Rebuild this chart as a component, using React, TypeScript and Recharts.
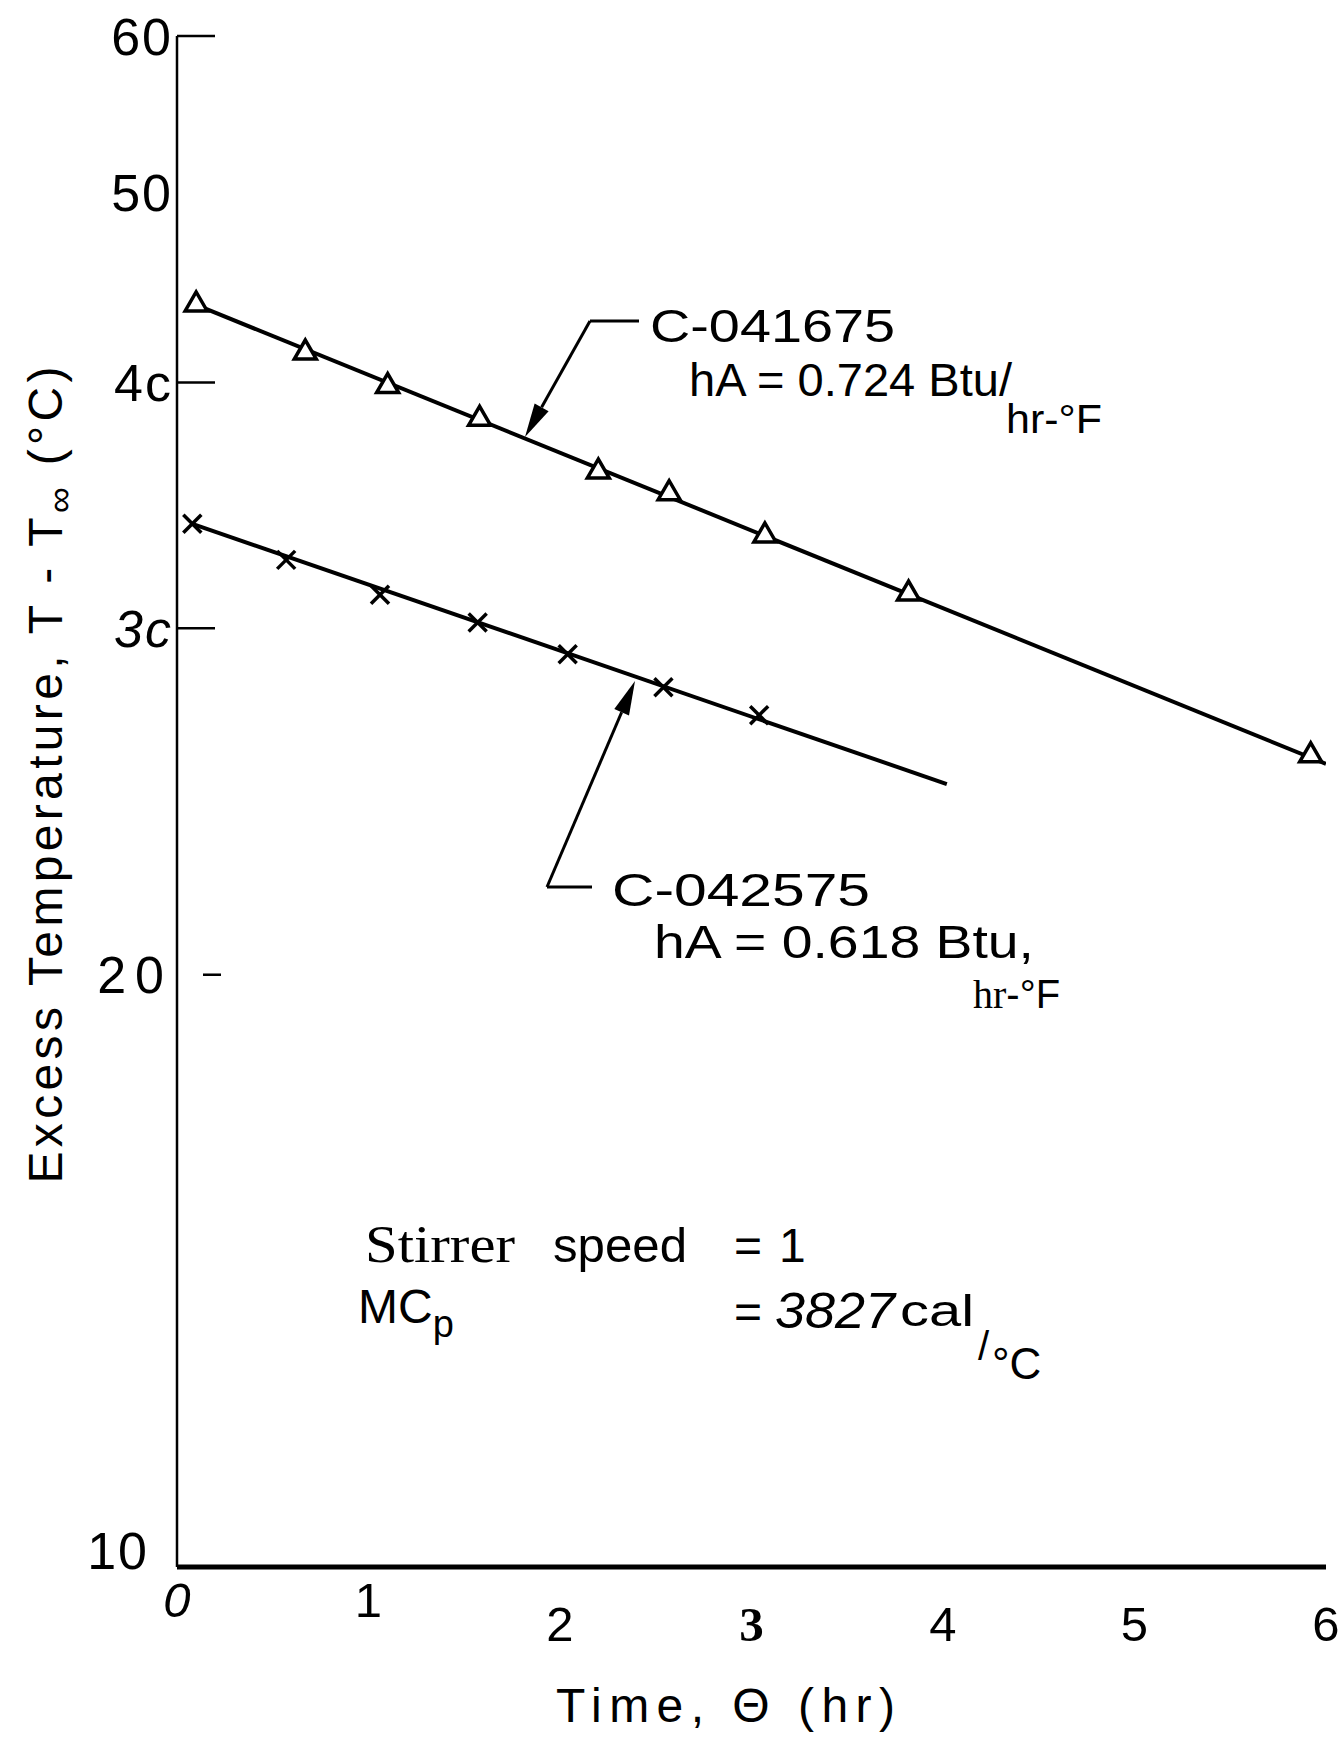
import { ComposedChart, XAxis, YAxis, Line, Scatter, Customized } from "recharts";

// run C-041675 (open triangles)
const runATime = [0.1, 0.67, 1.1, 1.58, 2.2, 2.57, 3.07, 3.82, 5.92];
const runATemp = [43.9, 41.5, 39.9, 38.4, 36.1, 35.2, 33.5, 31.3, 25.9];

// run C-042575 (crosses)
const runBTime = [0.08, 0.57, 1.06, 1.57, 2.04, 2.54, 3.04];
const runBTemp = [33.9, 32.5, 31.2, 30.2, 29.1, 28.0, 27.1];

// straight-line fits drawn through each run (end points)
const fitATime = [0.1, 6.0];
const fitATemp = [43.8, 25.6];
const fitBTime = [0.08, 4.02];
const fitBTemp = [33.9, 25.0];

const xTicks = [0, 1, 2, 3, 4, 5, 6];
const xTickLabels = ["0", "1", "2", "3", "4", "5", "6"];
const yTicks = [10, 20, 30, 40, 50, 60];
const yTickLabels = ["10", "20", "3c", "4c", "50", "60"];

const SANS = "'Liberation Sans', Arial, sans-serif";
const SERIF = "'Liberation Serif', 'Times New Roman', serif";

const toPoints = (xs: number[], ys: number[]) => xs.map((x, i) => ({ x, y: ys[i] }));

const runA = toPoints(runATime, runATemp);
const runB = toPoints(runBTime, runBTemp);
const fitA = toPoints(fitATime, fitATemp);
const fitB = toPoints(fitBTime, fitBTemp);

function Triangle({ cx, cy }: any) {
  return (
    <polygon
      points={`${cx},${cy - 11} ${cx - 11},${cy + 8} ${cx + 11},${cy + 8}`}
      fill="#fff"
      stroke="#000"
      strokeWidth={3.5}
    />
  );
}

function Cross({ cx, cy }: any) {
  const r = 9;
  return (
    <g stroke="#000" strokeWidth={3.5}>
      <line x1={cx - r} y1={cy - r} x2={cx + r} y2={cy + r} />
      <line x1={cx - r} y1={cy + r} x2={cx + r} y2={cy - r} />
    </g>
  );
}

function YTick({ x, y, payload }: any) {
  const v = payload.value;
  const label = yTickLabels[yTicks.indexOf(v)];
  let mark = null;
  if (v === 60 || v === 40 || v === 30) {
    mark = <line x1={x} x2={x + 38} y1={y} y2={y} stroke="#000" strokeWidth={2.5} />;
  } else if (v === 20) {
    mark = <line x1={x + 26} x2={x + 44} y1={y} y2={y} stroke="#000" strokeWidth={2.5} />;
  }
  const isBottom = v === 10;
  return (
    <g>
      {mark}
      <text
        x={isBottom ? x - 28 : x - 4}
        y={isBottom ? y - 17 : y}
        dy="0.36em"
        textAnchor="end"
        fontFamily={SANS}
        fontSize={52}
        fontStyle={label === "3c" ? "italic" : "normal"}
        letterSpacing={v === 20 ? 9 : 2}
        fill="#000"
      >
        {label}
      </text>
    </g>
  );
}

function XTick({ x, y, payload }: any) {
  const v = payload.value;
  const label = xTickLabels[xTicks.indexOf(v)];
  const raised = v === 0 || v === 1;
  return (
    <text
      x={x}
      y={y + (raised ? 50 : 74)}
      textAnchor="middle"
      fontFamily={v === 3 ? SERIF : SANS}
      fontWeight={v === 3 ? "bold" : "normal"}
      fontStyle={v === 0 ? "italic" : "normal"}
      fontSize={49}
      fill="#000"
    >
      {label}
    </text>
  );
}

function Arrow({ from, to }: { from: [number, number]; to: [number, number] }) {
  const dx = to[0] - from[0];
  const dy = to[1] - from[1];
  const len = Math.hypot(dx, dy);
  const ux = dx / len;
  const uy = dy / len;
  const bx = to[0] - ux * 34;
  const by = to[1] - uy * 34;
  const px = -uy * 8;
  const py = ux * 8;
  return (
    <g>
      <line x1={from[0]} y1={from[1]} x2={bx} y2={by} stroke="#000" strokeWidth={3} />
      <polygon points={`${to[0]},${to[1]} ${bx + px},${by + py} ${bx - px},${by - py}`} fill="#000" />
    </g>
  );
}

function Annotations() {
  return (
    <g fill="#000">
      {/* leader for C-041675 */}
      <polyline points="639,321 590,321" fill="none" stroke="#000" strokeWidth={3} />
      <Arrow from={[590, 321]} to={[525, 437]} />
      <text x={650} y={342} fontFamily={SANS} fontSize={46} textLength={245} lengthAdjust="spacingAndGlyphs">
        C-041675
      </text>
      <text x={689} y={396} fontFamily={SANS} fontSize={46} textLength={323} lengthAdjust="spacingAndGlyphs">
        hA = 0.724 Btu/
      </text>
      <text x={1006} y={433} fontFamily={SANS} fontSize={40} textLength={96} lengthAdjust="spacingAndGlyphs">
        hr-°F
      </text>

      {/* leader for C-042575 */}
      <polyline points="592,887 547,887" fill="none" stroke="#000" strokeWidth={3} />
      <Arrow from={[547, 887]} to={[635, 681]} />
      <text x={612} y={906} fontFamily={SANS} fontSize={46} textLength={258} lengthAdjust="spacingAndGlyphs">
        C-042575
      </text>
      <text x={654} y={958} fontFamily={SANS} fontSize={46} textLength={380} lengthAdjust="spacingAndGlyphs">
        hA = 0.618 Btu,
      </text>
      <text x={973} y={1008} fontSize={40}>
        <tspan fontFamily={SERIF}>hr</tspan>
        <tspan fontFamily={SANS}>-°F</tspan>
      </text>

      {/* run conditions */}
      <text x={365} y={1262} fontFamily={SERIF} fontSize={52} textLength={150} lengthAdjust="spacingAndGlyphs">
        Stirrer
      </text>
      <text x={553} y={1262} fontFamily={SANS} fontSize={48} textLength={134} lengthAdjust="spacingAndGlyphs">
        speed
      </text>
      <text x={734} y={1262} fontFamily={SANS} fontSize={48}>
        =
      </text>
      <text x={779} y={1262} fontFamily={SANS} fontSize={48}>
        1
      </text>
      <text x={358} y={1323} fontFamily={SANS} fontSize={48}>
        MC
        <tspan fontSize={38} dy={14}>p</tspan>
      </text>
      <text x={734} y={1328} fontFamily={SANS} fontSize={48}>
        =
      </text>
      <text x={775} y={1328} fontFamily={SANS} fontStyle="italic" fontSize={50} textLength={120} lengthAdjust="spacingAndGlyphs">
        3827
      </text>
      <text x={900} y={1326} fontFamily={SANS} fontSize={44} textLength={74} lengthAdjust="spacingAndGlyphs">
        cal
      </text>
      <text x={978} y={1360} fontFamily={SANS} fontSize={40}>
        /
      </text>
      <text x={992} y={1379} fontFamily={SANS} fontSize={44}>
        °C
      </text>

      {/* axis titles */}
      <text
        transform="rotate(-90)"
        x={-775}
        y={62}
        textAnchor="middle"
        fontFamily={SANS}
        fontSize={48}
        textLength={817}
        lengthAdjust="spacing"
      >
        Excess  Temperature,  T - T
        <tspan fontSize={36} dy={10}>∞</tspan>
        <tspan dy={-10}>  (°C)</tspan>
      </text>
      <text x={556} y={1722} fontFamily={SANS} fontSize={48} textLength={339} lengthAdjust="spacing">
        Time, Θ (hr)
      </text>
    </g>
  );
}

export default function App() {
  return (
    <div style={{ position: "absolute", left: 0, top: 0, background: "#fff" }}>
      <ComposedChart width={1343} height={1743} margin={{ top: 36, right: 17, bottom: 116, left: 117 }}>
        <XAxis
          type="number"
          dataKey="x"
          domain={[0, 6]}
          ticks={xTicks}
          allowDataOverflow
          height={60}
          tickSize={0}
          tickMargin={0}
          tickLine={false}
          axisLine={{ stroke: "#000", strokeWidth: 5 }}
          tick={(props: any) => <XTick {...props} />}
        />
        <YAxis
          type="number"
          dataKey="y"
          scale="log"
          domain={[10, 60]}
          ticks={yTicks}
          allowDataOverflow
          width={60}
          tickSize={0}
          tickMargin={0}
          tickLine={false}
          axisLine={{ stroke: "#000", strokeWidth: 2.5 }}
          tick={(props: any) => <YTick {...props} />}
        />
        <Line data={fitA} dataKey="y" stroke="#000" strokeWidth={4} dot={false} isAnimationActive={false} />
        <Line data={fitB} dataKey="y" stroke="#000" strokeWidth={4} dot={false} isAnimationActive={false} />
        <Scatter data={runA} dataKey="y" shape={(p: any) => <Triangle {...p} />} isAnimationActive={false} />
        <Scatter data={runB} dataKey="y" shape={(p: any) => <Cross {...p} />} isAnimationActive={false} />
        <Customized component={Annotations} />
      </ComposedChart>
    </div>
  );
}
